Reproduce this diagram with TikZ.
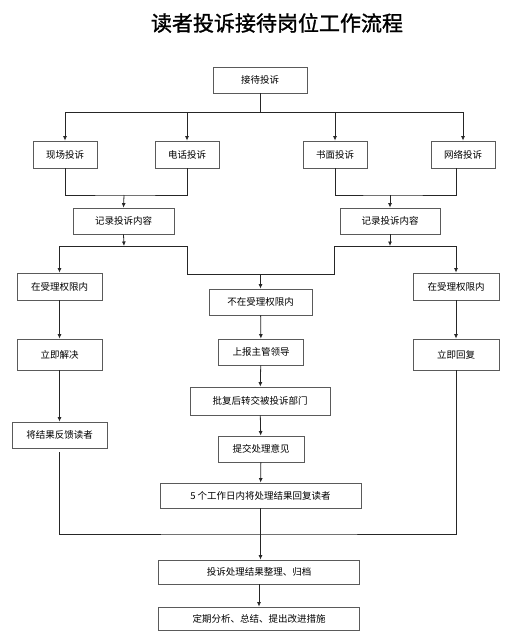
\documentclass[tikz,border=0pt]{standalone}
\usepackage{fontspec}
\newfontfamily\cjk{Noto Sans CJK SC}
\newfontfamily\cjktitle[FakeBold=1.2]{Noto Sans CJK SC}
\usetikzlibrary{arrows.meta}
\definecolor{boxgray}{HTML}{5A5A5A}
\begin{document}
\begin{tikzpicture}[
  x=1pt, y=-1pt,
  tsbox/.style = {draw=boxgray, line width=0.8pt, inner sep=0pt, minimum height=26pt,
    font=\cjk\fontsize{9.5}{11}\selectfont},
  tsline/.style = {line width=0.8pt, draw=black!85},
  tsarr/.style = {tsline, -{Latex[length=4.5pt,width=4pt]}},
  tstitle/.style = {font=\cjktitle\fontsize{21}{24}\selectfont}
]
  \useasboundingbox (0,0) rectangle (515,634);
  % title
  \node[tstitle] (title) at (277,23) {读者投诉接待岗位工作流程};
  % start
  \node[tsbox, minimum width=94pt] (recv) at (260,80) {接待投诉};
  % four ways of complaint
  \node[tsbox, minimum width=64pt, minimum height=27pt] (xc) at (65,154.5) {现场投诉};
  \node[tsbox, minimum width=64pt, minimum height=27pt] (dh) at (187,154.5) {电话投诉};
  \node[tsbox, minimum width=64pt, minimum height=27pt] (sm) at (335,154.5) {书面投诉};
  \node[tsbox, minimum width=64pt, minimum height=27pt] (wl) at (463,154.5) {网络投诉};
  % record
  \node[tsbox, minimum width=101pt] (jl1) at (123.5,221) {记录投诉内容};
  \node[tsbox, minimum width=100pt] (jl2) at (390,221) {记录投诉内容};
  % authority
  \node[tsbox, minimum width=85pt, minimum height=27pt] (zai1) at (59.5,286.5) {在受理权限内};
  \node[tsbox, minimum width=103pt] (buzai) at (260.5,302) {不在受理权限内};
  \node[tsbox, minimum width=86pt, minimum height=27pt] (zai2) at (456,286.5) {在受理权限内};
  % handling
  \node[tsbox, minimum width=85pt, minimum height=31pt] (jj) at (59.5,354.5) {立即解决};
  \node[tsbox, minimum width=85pt] (sb) at (261,352) {上报主管领导};
  \node[tsbox, minimum width=86pt, minimum height=31pt] (hf) at (456,354.5) {立即回复};
  \node[tsbox, minimum width=95pt] (fk) at (59.5,435) {将结果反馈读者};
  \node[tsbox, minimum width=140pt, minimum height=28pt] (pf) at (260,401) {批复后转交被投诉部门};
  \node[tsbox, minimum width=86pt] (tj) at (261,449) {提交处理意见};
  \node[tsbox, minimum width=201pt, minimum height=25pt] (wr) at (260.5,495.5) {5 个工作日内将处理结果回复读者};
  % archive
  \node[tsbox, minimum width=201pt, minimum height=24pt] (gd) at (259,572) {投诉处理结果整理、归档};
  \node[tsbox, minimum width=201pt, minimum height=23pt] (dq) at (259,618.5) {定期分析、总结、提出改进措施};

  % bus points
  \coordinate (t0) at (260,112);
  \coordinate (m1) at (124,195);
  \coordinate (m2) at (390,195);
  \coordinate (m3) at (124,246);
  \coordinate (m4) at (390,246);
  \coordinate (k1) at (187,274);
  \coordinate (k2) at (334,274);
  \coordinate (b1) at (260,534);

  % connectors
  \draw[tsline] (recv.south) -- (t0);
  \foreach \n in {xc,dh,sm,wl}
    \draw[tsarr] (t0) -| (\n.north);
  \draw[tsline] (xc.south) |- (m1) -| (dh.south);
  \draw[tsline] (sm.south) |- (m2) -| ([xshift=-7pt]wl.south);
  \draw[tsarr] (m1) -- (jl1.north);
  \draw[tsarr] (m2) -- (jl2.north);
  \draw[tsarr] (jl1.south) -- (m3);
  \draw[tsarr] (jl2.south) -- (m4);
  \draw[tsarr] (m3) -| (zai1.north);
  \draw[tsarr] (m4) -| (zai2.north);
  \draw[tsline] (m3) -| (k1) -- (k2) |- (m4);
  \draw[tsarr] (buzai.north |- k1) -- (buzai.north);
  \draw[tsarr] (zai1) -- (jj);
  \draw[tsarr] (buzai) -- (sb);
  \draw[tsarr] (zai2) -- (hf);
  \draw[tsarr] (jj) -- (fk);
  \draw[tsarr] (sb) -- (pf);
  \draw[tsarr] (pf) -- (tj);
  \draw[tsarr] (tj) -- (wr);
  \draw[tsarr] (wr.south) -- (gd.north -| wr.south);
  \draw[tsarr] (gd) -- (dq);
  \draw[tsline] ([yshift=-4pt]fk.south) |- (b1) -| (hf.south);
\end{tikzpicture}
\end{document}
